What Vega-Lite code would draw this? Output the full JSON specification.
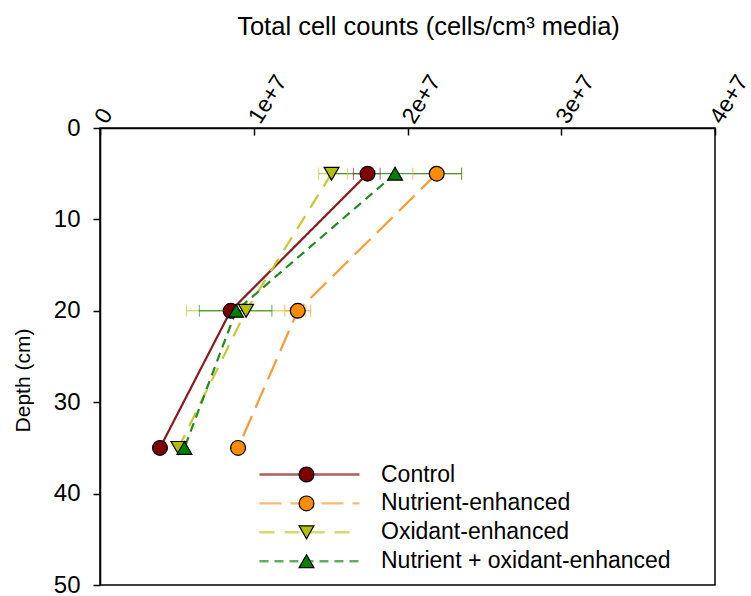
{
  "$schema": "https://vega.github.io/schema/vega-lite/v6.json",
  "width": 615,
  "height": 457,
  "autosize": {"type": "none"},
  "padding": {"left": 100, "top": 128, "right": 36, "bottom": 11},
  "background": "white",
  "config": {
    "font": "Liberation Sans",
    "view": {"stroke": "black", "strokeWidth": 1.5},
    "axis": {"grid": false, "domainColor": "black", "tickColor": "black", "labelColor": "black", "titleColor": "black", "labelFont": "Liberation Sans", "titleFont": "Liberation Sans", "titleFontWeight": "normal"}
  },
  "data": {
    "values": [
      {"series": "Control", "depth": 5, "cells": 17400000, "lo": 16480000, "hi": 18220000},
      {"series": "Control", "depth": 20, "cells": 8500000, "lo": null, "hi": null},
      {"series": "Control", "depth": 35, "cells": 3900000, "lo": null, "hi": null},
      {"series": "Nutrient-enhanced", "depth": 5, "cells": 21900000, "lo": 20350000, "hi": 23520000},
      {"series": "Nutrient-enhanced", "depth": 20, "cells": 12860000, "lo": 12020000, "hi": 13700000},
      {"series": "Nutrient-enhanced", "depth": 35, "cells": 8980000, "lo": null, "hi": null},
      {"series": "Oxidant-enhanced", "depth": 5, "cells": 15060000, "lo": 14220000, "hi": 16090000},
      {"series": "Oxidant-enhanced", "depth": 20, "cells": 9500000, "lo": 5620000, "hi": 13380000},
      {"series": "Oxidant-enhanced", "depth": 35, "cells": 5100000, "lo": null, "hi": null},
      {"series": "Nutrient + oxidant-enhanced", "depth": 5, "cells": 19190000, "lo": 15000000, "hi": 23520000},
      {"series": "Nutrient + oxidant-enhanced", "depth": 20, "cells": 8850000, "lo": 6460000, "hi": 11180000},
      {"series": "Nutrient + oxidant-enhanced", "depth": 35, "cells": 5490000, "lo": null, "hi": null}
    ]
  },
  "layer": [
    {
      "mark": {"type": "line", "strokeWidth": 2.2},
      "encoding": {
        "x": {
          "field": "cells", "type": "quantitative",
          "scale": {"domain": [0, 40000000], "nice": false, "zero": true},
          "axis": {
            "orient": "top",
            "values": [0, 10000000, 20000000, 30000000, 40000000],
            "labelExpr": "datum.value == 0 ? '0' : format(datum.value, '.0e')",
            "labelAngle": -58,
            "labelFontSize": 23,
            "labelAlign": "left",
            "labelBaseline": "middle",
            "labelPadding": 14,
            "tickSize": -7,
            "tickWidth": 1.5,
            "domainWidth": 1.5,
            "title": "Total cell counts (cells/cm³ media)",
            "titleFontSize": 25.5,
            "titlePadding": 32,
            "titleX": 328
          }
        },
        "y": {
          "field": "depth", "type": "quantitative",
          "scale": {"domain": [0, 50], "reverse": true, "nice": false},
          "axis": {
            "values": [0, 10, 20, 30, 40, 50],
            "labelFontSize": 24,
            "tickSize": 7,
            "tickWidth": 1.5,
            "domainWidth": 1.5,
            "labelPadding": 13,
            "title": "Depth (cm)",
            "titleFontSize": 21,
            "titlePadding": 20,
            "titleY": 252
          }
        },
        "order": {"field": "depth"},
        "color": {
          "field": "series", "type": "nominal",
          "scale": {
            "domain": ["Control", "Nutrient-enhanced", "Oxidant-enhanced", "Nutrient + oxidant-enhanced"],
            "range": ["#8b1a1a", "#ff9a33", "#c8c832", "#1e8c1e"]
          },
          "legend": {
            "orient": "none", "legendX": 198, "legendY": 335,
            "title": null, "symbolType": "M-12.5,0H12.5", "symbolSize": 64,
            "symbolStrokeWidth": 2.4, "symbolOpacity": 1, "labelFontSize": 23, "labelOffset": 60, "labelLimit": 500,
            "labelColor": "black", "rowPadding": 4.9
          }
        },
        "strokeDash": {
          "field": "series", "type": "nominal",
          "scale": {
            "domain": ["Control", "Nutrient-enhanced", "Oxidant-enhanced", "Nutrient + oxidant-enhanced"],
            "range": [[1, 0], [22, 9], [15, 10], [9, 6]]
          },
          "legend": {
            "orient": "none", "legendX": 198, "legendY": 335,
            "title": null, "symbolType": "M-12.5,0H12.5", "symbolSize": 64,
            "symbolStrokeWidth": 2.4, "symbolOpacity": 1, "labelFontSize": 23, "labelOffset": 60, "labelLimit": 500,
            "labelColor": "black", "rowPadding": 4.9
          }
        }
      }
    },
    {
      "mark": {"type": "rule", "strokeWidth": 1},
      "encoding": {
        "x": {"field": "lo", "type": "quantitative"},
        "x2": {"field": "hi"},
        "y": {"field": "depth", "type": "quantitative"},
        "color": {"field": "series", "type": "nominal"}
      }
    },
    {
      "mark": {"type": "tick", "orient": "vertical", "size": 12, "thickness": 1},
      "encoding": {
        "x": {"field": "lo", "type": "quantitative"},
        "y": {"field": "depth", "type": "quantitative"},
        "color": {"field": "series", "type": "nominal"}
      }
    },
    {
      "mark": {"type": "tick", "orient": "vertical", "size": 12, "thickness": 1},
      "encoding": {
        "x": {"field": "hi", "type": "quantitative"},
        "y": {"field": "depth", "type": "quantitative"},
        "color": {"field": "series", "type": "nominal"}
      }
    },
    {
      "mark": {"type": "point", "filled": true, "size": 220, "stroke": "black", "strokeWidth": 1.2, "opacity": 1},
      "encoding": {
        "x": {"field": "cells", "type": "quantitative"},
        "y": {"field": "depth", "type": "quantitative"},
        "fill": {
          "field": "series", "type": "nominal",
          "scale": {
            "domain": ["Control", "Nutrient-enhanced", "Oxidant-enhanced", "Nutrient + oxidant-enhanced", "-"],
            "range": ["#800000", "#ff8c00", "#b4bf00", "#008000", "#ffffff"]
          },
          "legend": {
            "orient": "none", "legendX": 195, "legendY": 335,
            "values": ["Control", "Nutrient-enhanced", "Oxidant-enhanced", "Nutrient + oxidant-enhanced"],
            "title": null, "symbolStrokeColor": "black", "symbolStrokeWidth": 1.2, "labelExpr": "''",
            "symbolSize": 220, "labelFontSize": 23, "labelColor": "transparent", "rowPadding": 4.9, "symbolOpacity": 1,
            "encoding": {"symbols": {"stroke": {"value": "black"}, "strokeWidth": {"value": 1.2}}}
          }
        },
        "shape": {
          "field": "series", "type": "nominal",
          "scale": {
            "domain": ["Control", "Nutrient-enhanced", "Oxidant-enhanced", "Nutrient + oxidant-enhanced", "-"],
            "range": ["circle", "circle", "triangle-down", "triangle-up", "square"]
          },
          "legend": {
            "orient": "none", "legendX": 195, "legendY": 335,
            "values": ["Control", "Nutrient-enhanced", "Oxidant-enhanced", "Nutrient + oxidant-enhanced"],
            "title": null, "symbolStrokeColor": "black", "symbolStrokeWidth": 1.2, "labelExpr": "''",
            "symbolSize": 220, "labelFontSize": 23, "labelColor": "transparent", "rowPadding": 4.9, "symbolOpacity": 1,
            "encoding": {"symbols": {"stroke": {"value": "black"}, "strokeWidth": {"value": 1.2}}}
          }
        }
      }
    }
  ]
}
